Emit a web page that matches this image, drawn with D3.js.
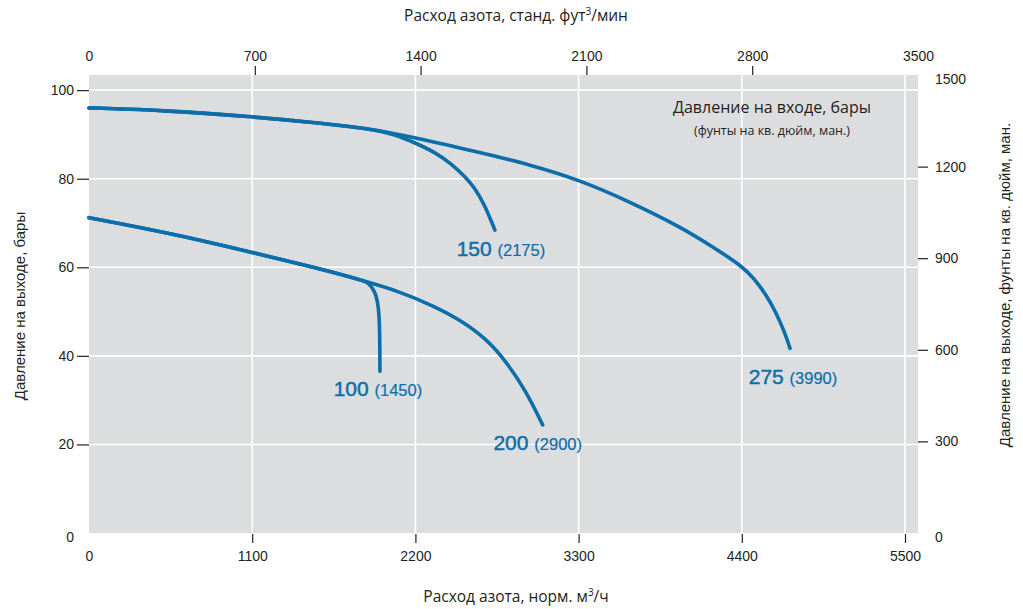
<!DOCTYPE html>
<html>
<head>
<meta charset="utf-8">
<script src="https://cdn.jsdelivr.net/npm/d3@7"></script>
<style>
  html, body { margin: 0; padding: 0; background: #ffffff; }
  svg { display: block; }
  .tick text { font-family: "Liberation Sans", Arial, sans-serif; font-size: 14px; fill: #231f20; }
  .tick line { stroke: #231f20; stroke-width: 1.2px; }
  .domain { display: none; }
</style>
</head>
<body>
<svg id="chart" width="1023" height="609"></svg>
<script>
// Flow, Nm³/h (bottom axis) and outlet pressure, bar, for each inlet-pressure curve
const flow275 = [0, 532, 1097, 1490, 1880, 2197, 2635, 2972, 3309, 3646, 3983, 4206, 4399, 4480, 4560, 4630, 4690, 4725];
const pres275 = [96.0, 95.4, 94.0, 92.8, 91.4, 89.3, 85.9, 83.2, 79.7, 74.8, 69.2, 64.6, 60.3, 57.6, 54.0, 49.9, 45.2, 41.7];

const flow150 = [0, 532, 1097, 1490, 1880, 2062, 2197, 2332, 2445, 2530, 2602, 2669, 2736];
const pres150 = [96.0, 95.4, 94.0, 92.8, 91.4, 90.0, 88.1, 86.0, 83.3, 80.6, 77.9, 73.9, 68.4];

const flow200 = [0, 535, 1097, 1543, 1838, 2096, 2321, 2503, 2680, 2815, 2950, 3058];
const pres200 = [71.2, 67.8, 63.4, 59.8, 57.1, 54.5, 51.3, 48.1, 43.8, 38.6, 31.8, 24.4];

const flow100 = [0, 535, 1097, 1543, 1838, 1880, 1928, 1953, 1960, 1961];
const pres100 = [71.2, 67.8, 63.4, 59.8, 57.1, 56.6, 54.7, 51.1, 45.5, 36.5];

// Inlet pressure labels: bar and psig
const inletBar = ["150", "100", "200", "275"];
const inletPsi = ["(2175)", "(1450)", "(2900)", "(3990)"];

// Tick values
const flowNm3Ticks = [0, 1100, 2200, 3300, 4400, 5500];
const flowScfmTicks = [0, 700, 1400, 2100, 2800, 3500];
const barTicks = [0, 20, 40, 60, 80, 100];
const psiTicks = [0, 300, 600, 900, 1200, 1500];

// Texts
const titleTop = "Расход азота, станд. фут";
const titleTopSup = "3";
const titleTopEnd = "/мин";
const titleBottom = "Расход азота, норм. м";
const titleBottomSup = "3";
const titleBottomEnd = "/ч";
const titleLeft = "Давление на выходе, бары";
const titleRight = "Давление на выходе, фунты на кв. дюйм, ман.";
const legendLine1 = "Давление на входе, бары";
const legendLine2 = "(фунты на кв. дюйм, ман.)";

const series = [
  { flow: flow150, pres: pres150, bar: inletBar[0], psi: inletPsi[0] },
  { flow: flow100, pres: pres100, bar: inletBar[1], psi: inletPsi[1] },
  { flow: flow200, pres: pres200, bar: inletBar[2], psi: inletPsi[2] },
  { flow: flow275, pres: pres275, bar: inletBar[3], psi: inletPsi[3] }
];

const svg = d3.select("#chart");
const plotLeft = 89, plotRight = 918, plotTop = 75, plotBottom = 533;
const PSI_PER_BAR = 14.5038;

const x = d3.scaleLinear().domain([0, 5500 * (plotRight - plotLeft) / 816]).range([plotLeft, plotRight]);
const xTop = d3.scaleLinear().domain([0, 3500]).range([plotLeft, plotRight]);
const y = d3.scaleLinear().domain([0, 1500 / PSI_PER_BAR]).range([plotBottom, plotTop]);
const yRight = d3.scaleLinear().domain([0, 1500]).range([plotBottom, plotTop]);

const blue = "#0b6eaa";
const textColor = "#231f20";
const titleFont = "'Open Sans', 'Noto Sans', sans-serif";

// Plot background
svg.append("rect")
  .attr("x", plotLeft).attr("y", plotTop)
  .attr("width", plotRight - plotLeft).attr("height", plotBottom - plotTop)
  .attr("fill", "#dcdddf");

// White grid
svg.append("g").selectAll("line").data(flowNm3Ticks.filter(d => d > 0)).join("line")
  .attr("x1", d => x(d)).attr("x2", d => x(d))
  .attr("y1", plotTop).attr("y2", plotBottom)
  .attr("stroke", "#ffffff").attr("stroke-width", 1.6);
svg.append("g").selectAll("line").data(barTicks.filter(d => d > 0)).join("line")
  .attr("x1", plotLeft).attr("x2", plotRight)
  .attr("y1", d => y(d)).attr("y2", d => y(d))
  .attr("stroke", "#ffffff").attr("stroke-width", 1.6);

// Axes
const hideZeroTick = g => g.selectAll(".tick").filter(d => d === 0).select("line").remove();

svg.append("g")
  .attr("transform", `translate(0,${plotBottom + 1})`)
  .call(d3.axisBottom(x).tickValues(flowNm3Ticks).tickSize(9).tickPadding(8).tickFormat(d3.format("d")))
  .call(hideZeroTick);

svg.append("g")
  .attr("transform", `translate(0,${plotTop})`)
  .call(d3.axisTop(xTop).tickValues(flowScfmTicks).tickSize(9).tickPadding(5).tickFormat(d3.format("d")))
  .call(hideZeroTick)
  .call(g => g.selectAll(".tick").filter(d => d === 3500).select("line").remove());

svg.append("g")
  .attr("transform", `translate(${plotLeft},0)`)
  .call(d3.axisLeft(y).tickValues(barTicks).tickSize(12).tickPadding(3).tickFormat(d3.format("d")))
  .call(hideZeroTick)
  .call(g => g.selectAll(".tick").filter(d => d === 0).select("text").attr("dy", "0.6em"));

svg.append("g")
  .attr("transform", `translate(${plotRight},0)`)
  .call(d3.axisRight(yRight).tickValues(psiTicks).tickSize(10).tickPadding(7).tickFormat(d3.format("d")))
  .call(hideZeroTick)
  .call(g => g.selectAll(".tick").filter(d => d === 1500).select("line").remove())
  .call(g => g.selectAll(".tick").filter(d => d === 0 || d === 1500).select("text").attr("dy", "0.6em"));

// Curves (B-spline smoothing through the read points)
const line = d3.line()
  .x(d => x(d[0]))
  .y(d => y(d[1]))
  .curve(d3.curveBasis);

const curves = svg.append("g");
series.forEach(s => {
  const pts = s.flow.map((f, i) => [f, s.pres[i]]);
  curves.append("path")
    .attr("d", line(pts))
    .attr("fill", "none")
    .attr("stroke", blue)
    .attr("stroke-width", 3.6)
    .attr("stroke-linecap", "round")
    .attr("stroke-linejoin", "round");
});

// Inlet pressure labels beneath each curve end
const labelShift = [[6, 26], [-2, 25], [-5, 25], [3, 36]];
series.forEach((s, i) => {
  const n = s.flow.length - 1;
  const t = svg.append("text")
    .attr("x", x(s.flow[n]) + labelShift[i][0])
    .attr("y", y(s.pres[n]) + labelShift[i][1])
    .attr("text-anchor", "middle")
    .attr("fill", blue)
    .attr("font-family", "'Liberation Sans', Arial, sans-serif");
  t.append("tspan").attr("font-size", 21)
    .attr("stroke", blue).attr("stroke-width", 0.45)
    .text(s.bar + " ");
  t.append("tspan").attr("font-size", 16.5)
    .attr("stroke", blue).attr("stroke-width", 0.2)
    .text(s.psi);
});

// Legend note
svg.append("text")
  .attr("x", 772).attr("y", 113)
  .attr("text-anchor", "middle")
  .attr("font-family", titleFont).attr("font-size", 16)
  .attr("fill", textColor)
  .text(legendLine1);
svg.append("text")
  .attr("x", 772).attr("y", 135)
  .attr("text-anchor", "middle")
  .attr("font-family", titleFont).attr("font-size", 12.5)
  .attr("fill", textColor)
  .text(legendLine2);

// Axis titles
const topTitle = svg.append("text")
  .attr("x", 516).attr("y", 21)
  .attr("text-anchor", "middle")
  .attr("font-family", titleFont).attr("font-size", 15.5)
  .attr("fill", textColor);
topTitle.append("tspan").text(titleTop);
topTitle.append("tspan").attr("font-size", 10).attr("dy", -6).text(titleTopSup);
topTitle.append("tspan").attr("dy", 6).text(titleTopEnd);

const bottomTitle = svg.append("text")
  .attr("x", 516).attr("y", 602)
  .attr("text-anchor", "middle")
  .attr("font-family", titleFont).attr("font-size", 15.5)
  .attr("fill", textColor);
bottomTitle.append("tspan").text(titleBottom);
bottomTitle.append("tspan").attr("font-size", 10).attr("dy", -6).text(titleBottomSup);
bottomTitle.append("tspan").attr("dy", 6).text(titleBottomEnd);

svg.append("text")
  .attr("transform", "translate(25,306) rotate(-90)")
  .attr("text-anchor", "middle")
  .attr("font-family", "'Liberation Sans', Arial, sans-serif").attr("font-size", 15)
  .attr("fill", textColor)
  .text(titleLeft);

svg.append("text")
  .attr("transform", "translate(1010,285) rotate(-90)")
  .attr("text-anchor", "middle")
  .attr("font-family", "'Liberation Sans', Arial, sans-serif").attr("font-size", 15)
  .attr("fill", textColor)
  .text(titleRight);
</script>
</body>
</html>
